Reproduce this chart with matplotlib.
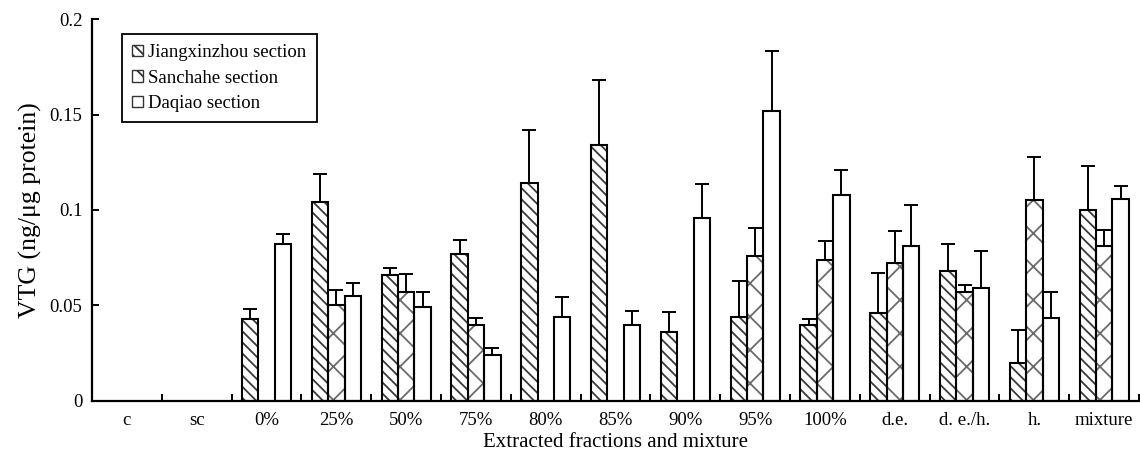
import numpy as np
import matplotlib
matplotlib.use('Agg')
import matplotlib.pyplot as plt
from matplotlib.patches import Patch
from matplotlib.ticker import FixedLocator

plt.rcParams['font.family'] = ['Liberation Serif', 'DejaVu Serif']
plt.rcParams['hatch.linewidth'] = 1.3

nan = np.nan
categories = ['c', 'sc', '0%', '25%', '50%', '75%', '80%', '85%', '90%', '95%',
              '100%', 'd.e.', 'd. e./h.', 'h.', 'mixture']
series_names = ['Jiangxinzhou section', 'Sanchahe section', 'Daqiao section']

# mean values (ng/ug protein)
jiang = [nan, nan, 0.043, 0.104, 0.066, 0.077, 0.114, 0.134, 0.036, 0.044,
         0.040, 0.046, 0.068, 0.020, 0.100]
sancha = [nan, nan, nan, 0.050, 0.057, 0.040, nan, nan, nan, 0.076,
          0.074, 0.072, 0.057, 0.105, 0.081]
daqiao = [nan, nan, 0.082, 0.055, 0.049, 0.024, 0.044, 0.040, 0.096, 0.152,
          0.108, 0.081, 0.059, 0.0435, 0.106]
# upper error (SD)
jiang_err = [nan, nan, 0.005, 0.015, 0.0035, 0.0075, 0.028, 0.034, 0.0105, 0.019,
             0.003, 0.021, 0.014, 0.017, 0.023]
sancha_err = [nan, nan, nan, 0.008, 0.0096, 0.0035, nan, nan, nan, 0.0146,
              0.0096, 0.017, 0.0035, 0.023, 0.0083]
daqiao_err = [nan, nan, 0.0055, 0.007, 0.008, 0.0035, 0.0104, 0.007, 0.0178, 0.031,
              0.013, 0.0214, 0.0197, 0.0136, 0.0068]

values = [jiang, sancha, daqiao]
errors = [jiang_err, sancha_err, daqiao_err]
hatches = ['\\\\\\', 'x', '']
hatch_cols = ['#3a3a3a', '#6a6a6a', 'white']

fig = plt.figure(figsize=(11.4, 4.58), dpi=100)
ax = fig.add_axes([0.0807, 0.1245, 0.9185, 0.834])

x = np.arange(len(categories))
w = 0.235
for k in range(3):
    pos = x + (k - 1) * w
    v = np.array(values[k], dtype=float)
    e = np.array(errors[k], dtype=float)
    # hatch layer (grey lines) then black outline on top
    ax.bar(pos, v, width=w, color='white', edgecolor=hatch_cols[k], hatch=hatches[k],
           linewidth=0, zorder=2)
    ax.bar(pos, v, width=w, color='none', edgecolor='black', linewidth=1.5, zorder=3)
    ax.errorbar(pos, v, yerr=[np.zeros_like(e), e], fmt='none', ecolor='black',
                elinewidth=1.4, capsize=5, capthick=1.4, zorder=1)

ax.set_xlim(-0.5, len(categories) - 0.5)
ax.set_ylim(0, 0.2)
ax.set_yticks([0, 0.05, 0.1, 0.15, 0.2])
ax.set_yticklabels(['0', '0.05', '0.1', '0.15', '0.2'])
ax.set_xticks(x)
ax.set_xticklabels(categories)
ax.xaxis.set_minor_locator(FixedLocator(np.arange(-0.5, len(categories), 1.0)))
ax.tick_params(axis='x', which='major', length=0, labelsize=13.5, pad=8)
ax.tick_params(axis='x', which='minor', direction='in', length=5, width=1.4)
ax.tick_params(axis='y', direction='in', length=5, width=1.4, labelsize=13.5, pad=7)

for s in ['top', 'right']:
    ax.spines[s].set_visible(False)
for s in ['left', 'bottom']:
    ax.spines[s].set_linewidth(1.6)

ax.set_xlabel('Extracted fractions and mixture', fontsize=15, labelpad=3)
ax.set_ylabel('VTG (ng/\u03bcg protein)', fontsize=18.5, labelpad=5)

handles = [Patch(facecolor='white', edgecolor='#333333', hatch=hatches[k], linewidth=1.0,
                 label=series_names[k]) for k in range(3)]
leg = ax.legend(handles=handles, loc='upper left', bbox_to_anchor=(0.0286, 0.961),
                borderaxespad=0, fontsize=13.5, handlelength=0.55, handleheight=0.55,
                handletextpad=0.3, labelspacing=0.45, borderpad=0.55, fancybox=False,
                edgecolor='black', framealpha=1)
leg.get_frame().set_linewidth(1.3)

plt.savefig('out.png', dpi=100)
